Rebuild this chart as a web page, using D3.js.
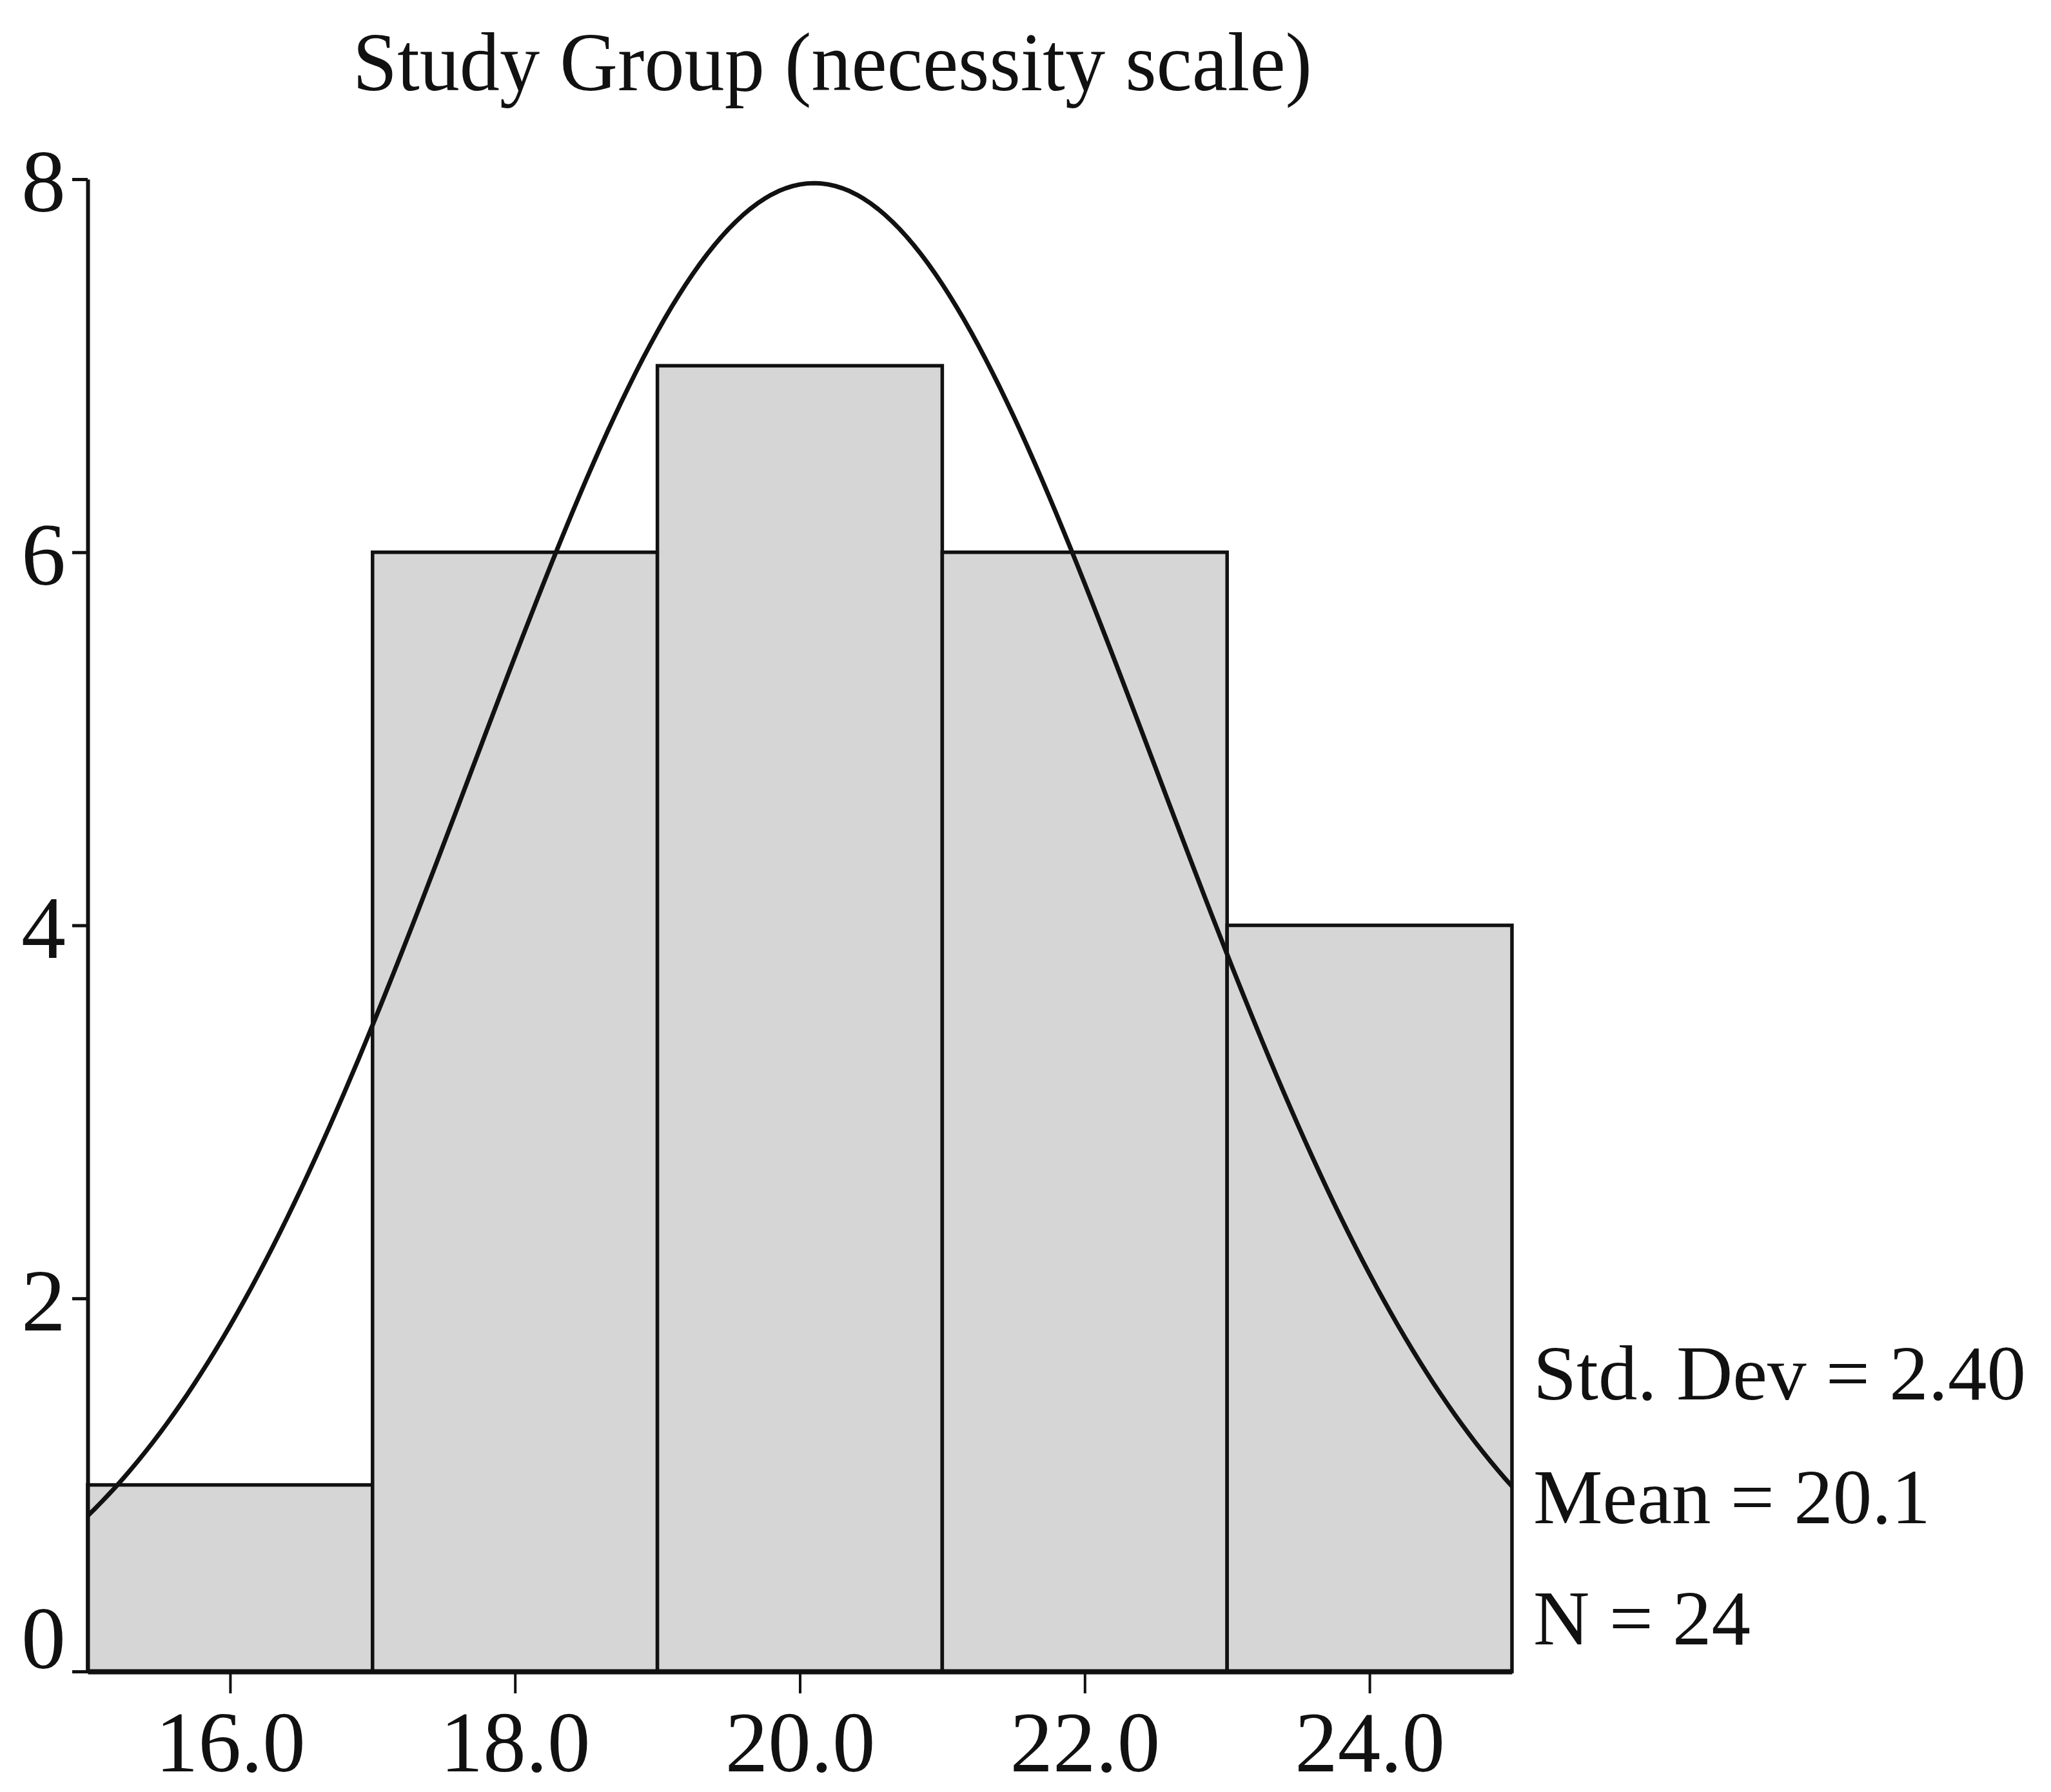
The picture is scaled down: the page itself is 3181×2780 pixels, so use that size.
<!DOCTYPE html>
<html>
<head>
<meta charset="utf-8">
<script src="https://cdn.jsdelivr.net/npm/d3@7"></script>
<style>
  html, body { margin: 0; padding: 0; background: #ffffff; }
  svg { display: block; }
  text { font-family: "Liberation Serif", "Times New Roman", serif; fill: #111; }
</style>
</head>
<body>
<svg id="chart" width="3181" height="2780"></svg>
<script>
// Histogram bins (lower edges) and frequencies
const binStarts = [15, 17, 19, 21, 23];
const binWidth = 2;
const counts = [1, 6, 7, 6, 4];

// Axis ticks
const xTickValues = [16, 18, 20, 22, 24];
const yTickValues = [0, 2, 4, 6, 8];

// Summary statistics shown beside the plot
const statMean = 20.1;
const statSD = 2.40;
const statN = 24;
const statLabels = ["Std. Dev = 2.40", "Mean = 20.1", "N = 24"];

const title = "Study Group (necessity scale)";

const svg = d3.select("#chart");

const x = d3.scaleLinear().domain([15, 25]).range([136, 2345]);
const y = d3.scaleLinear().domain([0, 8]).range([2593, 278]);

// Title
svg.append("text")
  .attr("x", 1291)
  .attr("y", 140)
  .attr("text-anchor", "middle")
  .attr("font-size", 130)
  .attr("textLength", 1488)
  .attr("lengthAdjust", "spacingAndGlyphs")
  .text(title);

// Bars
svg.append("g")
  .selectAll("rect")
  .data(binStarts.map((s, i) => ({ x0: s, x1: s + binWidth, c: counts[i] })))
  .join("rect")
  .attr("x", d => x(d.x0))
  .attr("y", d => y(d.c))
  .attr("width", d => x(d.x1) - x(d.x0))
  .attr("height", d => y(0) - y(d.c))
  .attr("fill", "#d6d6d6")
  .attr("stroke", "#111")
  .attr("stroke-width", 5.5);

// Fitted normal curve, scaled to counts: N * binWidth * pdf(x)
const pdf = v => Math.exp(-0.5 * ((v - statMean) / statSD) ** 2) / (statSD * Math.sqrt(2 * Math.PI));
const curvePts = d3.range(15, 25.0001, 0.05).map(v => [v, statN * binWidth * pdf(v)]);
svg.append("path")
  .datum(curvePts)
  .attr("fill", "none")
  .attr("stroke", "#111")
  .attr("stroke-width", 7)
  .attr("stroke-linejoin", "round")
  .attr("d", d3.line().x(d => x(d[0])).y(d => y(d[1])));

// Y axis
const yAxis = svg.append("g")
  .attr("transform", `translate(${x(15)},0)`)
  .call(d3.axisLeft(y).tickValues(yTickValues).tickFormat(d3.format("d"))
        .tickSize(24).tickSizeOuter(0).tickPadding(10));
yAxis.select(".domain").attr("stroke", "#111").attr("stroke-width", 6);
yAxis.selectAll(".tick line").attr("stroke", "#111").attr("stroke-width", 5);
yAxis.selectAll(".tick text")
  .attr("font-size", 138)
  .attr("font-family", "Liberation Serif")
  .attr("fill", "#111")
  .attr("dy", d => d === 0 ? "-0.04em" : "0.36em");

// X axis
const xAxis = svg.append("g")
  .attr("transform", `translate(0,${y(0)})`)
  .call(d3.axisBottom(x).tickValues(xTickValues).tickFormat(d3.format(".1f"))
        .tickSize(34).tickSizeOuter(0));
xAxis.select(".domain").attr("stroke", "#111").attr("stroke-width", 8);
xAxis.selectAll(".tick line").attr("stroke", "#111").attr("stroke-width", 4);
xAxis.selectAll(".tick text")
  .attr("font-size", 133)
  .attr("font-family", "Liberation Serif")
  .attr("fill", "#111")
  .attr("dy", null)
  .attr("y", 155);

// Statistics block
const statBaselines = [2171, 2363, 2551];
svg.append("g")
  .selectAll("text")
  .data(statLabels)
  .join("text")
  .attr("x", 2378)
  .attr("y", (d, i) => statBaselines[i])
  .attr("font-size", 121)
  .text(d => d);
</script>
</body>
</html>
